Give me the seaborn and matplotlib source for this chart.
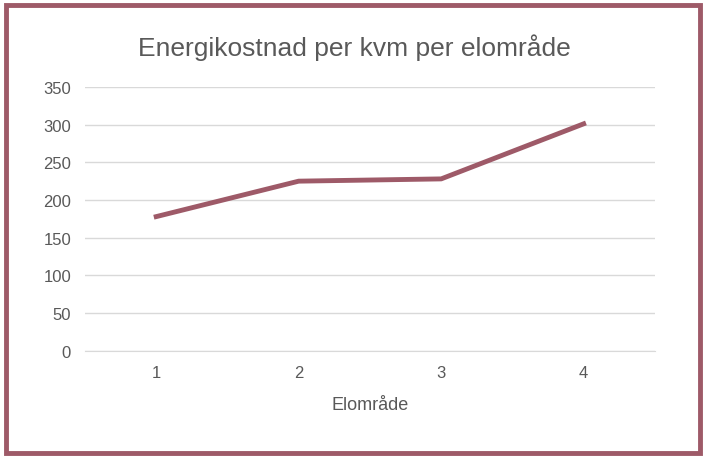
import matplotlib
matplotlib.use("Agg")
import matplotlib.pyplot as plt
import seaborn as sns
import pandas as pd
from matplotlib.patches import Rectangle

categories = [1, 2, 3, 4]
values = [178, 225, 228, 301]
yticks = [0, 50, 100, 150, 200, 250, 300, 350]

df = pd.DataFrame({"Elområde": categories, "Kostnad": values})
plt.rcParams["font.family"] = "Liberation Sans"
fig = plt.figure(figsize=(7.08, 4.6), dpi=100)
ax = fig.add_axes([0.12, 0.235, 0.805, 0.574])
sns.lineplot(data=df, x="Elområde", y="Kostnad", ax=ax, color="#9e5a68", linewidth=3.5)
ax.set_xlim(0.5, 4.5)
ax.set_ylim(0, 350)
ax.set_yticks(yticks)
ax.set_xticks(categories)
ax.grid(axis="y", color="#d9d9d9", linewidth=1)
ax.set_axisbelow(True)
for s in ["top", "right", "left"]:
    ax.spines[s].set_visible(False)
ax.spines["bottom"].set_color("#d9d9d9")
ax.tick_params(length=0, labelsize=12, colors="#595959", pad=10)
ax.set_ylabel("")
ax.set_xlabel("Elområde", fontsize=13, color="#595959", labelpad=12)
fig.suptitle("Energikostnad per kvm per elområde", y=0.925, fontsize=19, color="#595959")
fig.patches.append(Rectangle((6/708, 6/460), 694/708, 448/460, transform=fig.transFigure,
                             fill=False, edgecolor="#9e5a68", linewidth=3.5))
fig.savefig("out.png", dpi=100)
